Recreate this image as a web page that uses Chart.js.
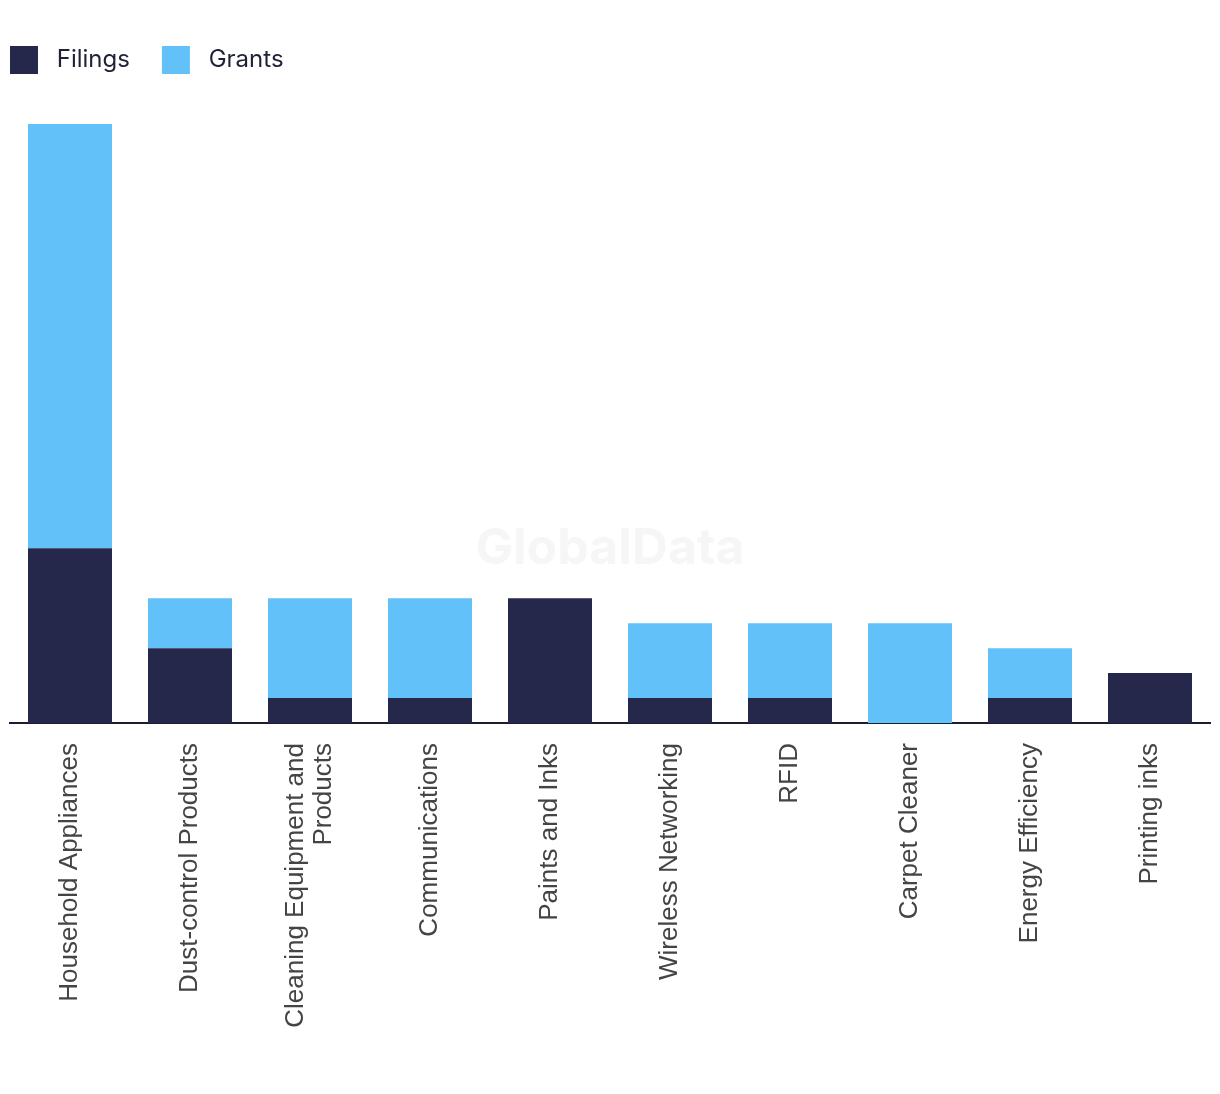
<!DOCTYPE html>
<html>
<head>
<meta charset="utf-8">
<script src="https://cdn.jsdelivr.net/npm/chart.js@4.4.0/dist/chart.umd.min.js"></script>
<style>
  html, body { margin: 0; padding: 0; background: #ffffff; }
  #wrap { width: 1220px; height: 1094px; position: relative; }
</style>
</head>
<body>
<div id="wrap"><canvas id="c" width="1220" height="1094"></canvas></div>
<script>
const categories = [
  "Household Appliances",
  "Dust-control Products",
  ["Cleaning Equipment and", "Products"],
  "Communications",
  "Paints and Inks",
  "Wireless Networking",
  "RFID",
  "Carpet Cleaner",
  "Energy Efficiency",
  "Printing inks"
];
const filings = [7, 3, 1, 1, 5, 1, 1, 0, 1, 2];
const grants  = [17, 2, 4, 4, 0, 3, 3, 4, 2, 0];
const seriesNames = ["Filings", "Grants"];
const watermarkText = "GlobalData";

const NAVY = "#26284b";
const BLUE = "#62c1f8";
const LEGEND_PAD = 32;
const LEGEND_EXTRA = 40;
const TICK_SIZE = 26;
const TICK_LINE = 28;

const legendSpacer = {
  id: "legendSpacer",
  beforeInit(chart) {
    const orig = chart.legend.fit;
    chart.legend.fit = function () {
      orig.bind(chart.legend)();
      this.height += LEGEND_EXTRA;
    };
  },
  afterLayout(chart) {
    chart.legend.left = 10 - LEGEND_PAD;
  },
  beforeDraw(chart) {
    // centre multi-line rotated tick labels on their category
    const s = chart.scales.x;
    const items = s._labelItems || (s._labelItems = s._computeLabelItems(chart.chartArea));
    items.forEach(it => {
      if (Array.isArray(it.label) && it.label.length > 1 && !it._centred) {
        const shift = (it.label.length - 1) * TICK_LINE / 2;
        if (typeof it.textOffset === "number") it.textOffset -= shift;
        it._centred = true;
      }
    });
  }
};

const watermark = {
  id: "watermark",
  beforeDatasetsDraw(chart) {
    const ctx = chart.ctx;
    ctx.save();
    ctx.font = "bold 50px Inter";
    ctx.fillStyle = "#f6f6f6";
    ctx.textAlign = "center";
    ctx.textBaseline = "middle";
    ctx.fillText(watermarkText, 610, 549);
    ctx.restore();
  }
};

new Chart(document.getElementById("c"), {
  type: "bar",
  data: {
    labels: categories,
    datasets: [
      { label: " " + seriesNames[0], data: filings, backgroundColor: NAVY, borderWidth: 0 },
      { label: " " + seriesNames[1], data: grants, backgroundColor: BLUE, borderWidth: 0 }
    ]
  },
  options: {
    responsive: false,
    animation: false,
    maintainAspectRatio: false,
    datasets: { bar: { categoryPercentage: 1.0, barPercentage: 0.7 } },
    layout: { padding: { top: 14, left: 10, right: 10, bottom: 0 } },
    plugins: {
      legend: {
        display: true,
        position: "top",
        align: "start",
        labels: {
          boxWidth: 28,
          boxHeight: 28,
          padding: LEGEND_PAD,
          color: "#1f2137",
          font: { family: "Inter", size: 24 }
        }
      },
      tooltip: { enabled: false }
    },
    scales: {
      x: {
        stacked: true,
        grid: { display: false, drawTicks: false },
        border: { display: true, color: "#1c1d33", width: 2 },
        ticks: {
          maxRotation: 90,
          minRotation: 90,
          padding: 20,
          color: "#444444",
          font: { family: "Liberation Sans", size: TICK_SIZE, lineHeight: TICK_LINE + "px" }
        },
        afterFit(scale) { scale.height = 1094 - 723; }
      },
      y: {
        stacked: true,
        display: false,
        min: 0,
        max: 24
      }
    }
  },
  plugins: [legendSpacer, watermark]
});
</script>
</body>
</html>
